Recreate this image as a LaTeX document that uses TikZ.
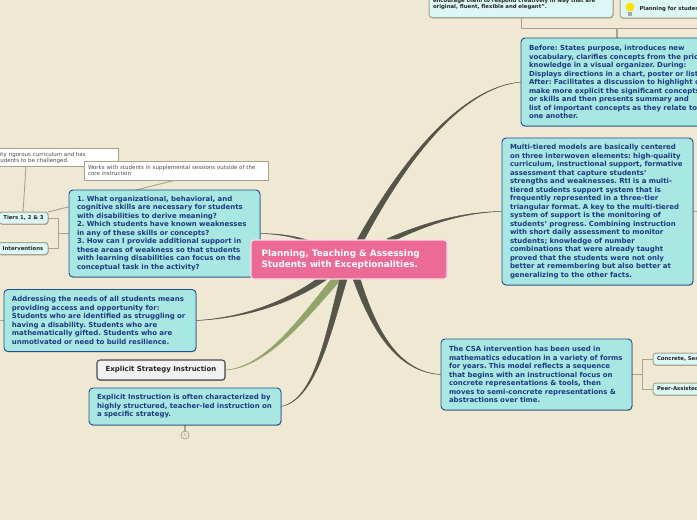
\documentclass[tikz,border=0pt]{standalone}
\usepackage{fontspec}
\setmainfont{DejaVu Sans}
\usetikzlibrary{calc,shadows}
\pgfdeclarelayer{back}
\pgfsetlayers{back,main}
\definecolor{bg}{HTML}{EFE8D2}
\definecolor{tealfill}{HTML}{A9E7E2}
\definecolor{tealline}{HTML}{1F4E96}
\definecolor{textblue}{HTML}{1B3A84}
\definecolor{lightfill}{HTML}{DDF7F5}
\definecolor{pinkfill}{HTML}{EC6A96}
\definecolor{branch}{HTML}{56554A}
\definecolor{olive}{HTML}{93A36C}
\definecolor{thin}{HTML}{A9A28C}
\newcommand{\taper}[7]{% colour, start, c1, c2, end, half width x, y
 \fill[#1,draw=#1,line width=.4pt] ($(#2)+(#6,#7)$) .. controls ($(#3)+(.65*#6,.65*#7)$) and ($(#4)+(.12*#6,.12*#7)$) .. (#5) .. controls ($(#4)-(.12*#6,.12*#7)$) and ($(#3)-(.65*#6,.65*#7)$) .. ($(#2)-(#6,#7)$) -- cycle;}
\tikzset{x=1pt,y=-1pt,
 every node/.style={inner sep=0pt,outer sep=0pt},
 softshadow/.style={drop shadow={shadow xshift=.5pt,shadow yshift=-.8pt,opacity=.3,fill=black}},
 tealbox/.style={draw=tealline,line width=.9pt,fill=tealfill,rounded corners=4pt,text=textblue,font=\bfseries\fontsize{6.95}{8.5}\selectfont\frenchspacing,align=left,anchor=north west,inner xsep=8pt,softshadow},
 minor/.style={draw=thin,line width=1pt,fill=lightfill,rounded corners=3pt,text=black!85,font=\bfseries\fontsize{5.35}{5.75}\selectfont\frenchspacing,align=left,anchor=north west,softshadow},
 note/.style={draw=thin,line width=1pt,fill=white,text=black!70,font=\fontsize{5.5}{6.2}\selectfont\frenchspacing,align=left,anchor=north west,inner xsep=4pt},
 conn/.style={draw=thin,line width=.9pt},
 thickconn/.style={draw=thin,line width=1.5pt}}
\begin{document}
\begin{tikzpicture}
\useasboundingbox (0,0) rectangle (697,520);
\clip (0,0) rectangle (697,520);
\begin{pgfonlayer}{back}
\fill[bg] (0,0) rectangle (697,520);
\end{pgfonlayer}
% teal topics
\node[tealbox,text width=175pt,minimum height=87pt] (rti) at (69,190) {1. What organizational, behavioral, and\\cognitive skills are necessary for students\\with disabilities to derive meaning?\\2. Which students have known weaknesses\\in any of these skills or concepts?\\3. How can I provide additional support in\\these areas of weakness so that students\\with learning disabilities can focus on the\\conceptual task in the activity?};
% central topic
\node[draw=white!75!pinkfill,line width=1.2pt,fill=pinkfill,rounded corners=3pt,text=white,font=\bfseries\fontsize{8.9}{10.5}\selectfont,align=left,anchor=north west,minimum height=39pt,text width=175pt,inner xsep=10.5pt] (main) at (251,240) {Planning, Teaching \& Assessing\\Students with Exceptionalities.};
\node[tealbox,text width=176pt,minimum height=62pt] (addr) at (4,289.5) {Addressing the needs of all students means\\providing access and opportunity for:\\Students who are identified as struggling or\\having a disability. Students who are\\mathematically gifted. Students who are\\unmotivated or need to build resilience.};
\node[draw=black!70,line width=1.1pt,fill=black!5,rounded corners=3pt,text=black!85,font=\bfseries\fontsize{6.95}{8.5}\selectfont,anchor=north west,minimum width=128pt,minimum height=20pt,softshadow] (strat) at (97,360) {Explicit Strategy Instruction};
\node[tealbox,text width=176pt,minimum height=37pt] (instr) at (89,388) {Explicit Instruction is often characterized by\\highly structured, teacher-led instruction on\\a specific strategy.};
\node[tealbox,text width=175pt,minimum height=71pt] (csa) at (441,339) {The CSA intervention has been used in\\mathematics education in a variety of forms\\for years. This model reflects a sequence\\that begins with an instructional focus on\\concrete representations \& tools, then\\moves to semi-concrete representations \&\\abstractions over time.};
\node[tealbox,text width=175pt,minimum height=147pt] (multi) at (502,138) {Multi-tiered models are basically centered\\on three interwoven elements: high-quality\\curriculum, instructional support, formative\\assessment that capture students'\\strengths and weaknesses. RtI is a multi-\\tiered students support system that is\\frequently represented in a three-tier\\triangular format. A key to the multi-tiered\\system of support is the monitoring of\\students' progress. Combining instruction\\with short daily assessment to monitor\\students; knowledge of number\\combinations that were already taught\\proved that the students were not only\\better at remembering but also better at\\generalizing to the other facts.};
\node[tealbox,text width=185pt,minimum height=88pt] (before) at (521,38) {Before: States purpose, introduces new\\vocabulary, clarifies concepts from the prior\\knowledge in a visual organizer. During:\\Displays directions in a chart, poster or list.\\After: Facilitates a discussion to highlight or\\make more explicit the significant concepts\\or skills and then presents summary and\\list of important concepts as they relate to\\one another.};
% top subtopics
\node[minor,text width=176pt,inner xsep=4pt,minimum height=32pt] (creative) at (429,-14.5) {original, open-ended, or complex problems that\\encourage them to respond creatively in way that are\\original, fluent, flexible and elegant".};
\node[minor,minimum width=120pt,minimum height=22pt] (plan) at (620,-4) {};
\node[text=black!85,font=\bfseries\fontsize{5.35}{6}\selectfont,anchor=west] (plantext) at (639.5,9) {Planning for students};
\fill[yellow!85!orange] (630,7) circle (4.4pt);
\fill[black!35] (627.8,11.5) rectangle (632.2,15.5);
% left subtopics
\node[minor,minimum width=49pt,minimum height=12pt,anchor=north east] (tiers) at (48,212) {Tiers 1, 2 \& 3};
\node[minor,minimum width=50pt,minimum height=12pt,anchor=north east] (interv) at (48,242.5) {Interventions};
\node[note,minimum height=18pt,minimum width=148pt,anchor=north east,inner xsep=0pt] (noteA) at (118,148) {};
\node[anchor=north west,text=black!70,font=\fontsize{5.5}{6.2}\selectfont\frenchspacing,align=left] (noteAtext) at (-26,152) {high-quality rigorous curriculum and has\\\hspace*{12pt}for students to be challenged.};
\node[note,text width=176pt,minimum height=19pt] (noteB) at (84,161) {Works with students in supplemental sessions outside of the\\core instruction};
% right subtopics
\node[minor,text width=110pt,inner xsep=4pt,minimum height=12pt] (conc) at (653,353) {Concrete, Semi-Concrete};
\node[minor,text width=110pt,inner xsep=4pt,minimum height=12pt] (peer) at (653,383) {Peer-Assisted Learning};
% collapsed marker
\node[circle,draw=thin,line width=.8pt,minimum size=8pt,text=thin,font=\fontsize{3.5}{4}\selectfont] (more) at (185,435) {6};
\coordinate (s1) at (360,241);
\coordinate (s2) at (388,241);
\coordinate (s3) at (320,245);
\coordinate (s4) at (325,277);
\coordinate (s5) at (338,277);
\coordinate (s6) at (344,277);
\coordinate (s7) at (356,277);
\coordinate (offA) at (-4,320.5);
\coordinate (offB) at (710,211.5);
\coordinate (topL) at (521,28);
\coordinate (topM) at (617,28);
\coordinate (topR) at (710,28);
\begin{pgfonlayer}{back}
\taper{branch}{s1}{396,175}{455,88}{before.west}{2.8}{1.5}
\taper{branch}{s2}{420,226}{460,212}{multi.west}{1}{2.2}
\taper{branch}{s3}{295,236}{280,234}{rti.east}{.3}{1.2}
\taper{branch}{s4}{290,302}{245,318}{addr.east}{1.8}{2.5}
\taper{olive}{s5}{302,320}{265,368}{strat.east}{3}{2.6}
\taper{branch}{s6}{328,335}{315,400}{instr.east}{3.4}{1}
\taper{branch}{s7}{372,325}{395,372}{csa.west}{3.3}{-1.1}
\draw[conn] (rti.west) -- (58,233.5) -- (58,218) -- (tiers.east);
\draw[conn] (58,233.5) -- (58,248.5) -- (interv.east);
\draw[conn] (csa.east) -- (642,374.5) -- (642,359) -- (conc.west);
\draw[conn] (642,374.5) -- (642,389) -- (peer.west);
\draw[conn] (noteA.south -| 26,0) -- (tiers.north -| 23,0);
\draw[conn] (noteB.south) -- (tiers.north east);
\draw[conn] (addr.west) -- (offA);
\draw[conn] (multi.east) -- (offB);
\draw[conn] (creative.south -| topL) -- (topL) -- (topR);
\draw[thickconn] (topM) -- (before.north -| topM);
\draw[thickconn] (instr.south) -- (more.north);
\end{pgfonlayer}
\end{tikzpicture}
\end{document}
